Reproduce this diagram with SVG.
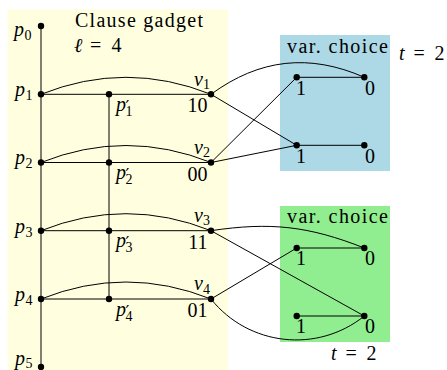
<svg xmlns="http://www.w3.org/2000/svg" width="447" height="370" viewBox="0 0 447 370">
<style>
.e{stroke:#000;stroke-width:1;fill:none}
.n{fill:#000}
text{font-family:"Liberation Serif","Times New Roman",serif;font-size:20px;fill:#000}
.i{font-style:italic}
.s{font-size:14px;font-style:normal}
.pr{font-family:"DejaVu Serif",serif;font-size:17px;font-style:normal}
</style>
<rect x="7.5" y="9.5" width="220.5" height="361" fill="#FFFFE0"/>
<rect x="280" y="35" width="110" height="136" fill="#ADD8E6"/>
<rect x="280" y="206" width="110" height="136" fill="#90EE90"/>
<g id="titles">
<text x="75" y="26.5" textLength="128" lengthAdjust="spacing">Clause gadget</text>
<text y="51.5"><tspan x="74" class="i">ℓ</tspan><tspan x="90">=</tspan><tspan x="111.5">4</tspan></text>
<text x="287" y="53" textLength="101" lengthAdjust="spacing">var. choice</text>
<text y="60"><tspan x="399" class="i">t</tspan><tspan x="413.5">=</tspan><tspan x="434.5">2</tspan></text>
<text x="287" y="223" textLength="101" lengthAdjust="spacing">var. choice</text>
<text y="360"><tspan x="331" class="i">t</tspan><tspan x="345.5">=</tspan><tspan x="366.5">2</tspan></text>
</g>
<g id="connectors">
<line class="e" x1="41" y1="26" x2="41" y2="367"/>
<line class="e" x1="109" y1="94.3" x2="109" y2="299"/>
<line class="e" x1="41" y1="94.3" x2="211" y2="94.3"/>
<line class="e" x1="41" y1="162.5" x2="211" y2="162.5"/>
<line class="e" x1="41" y1="230.7" x2="211" y2="230.7"/>
<line class="e" x1="41" y1="299" x2="211" y2="299"/>
<path class="e" d="M41,94.3 Q126,60.3 211,94.3"/>
<path class="e" d="M41,162.5 Q126,128.5 211,162.5"/>
<path class="e" d="M41,230.7 Q126,196.7 211,230.7"/>
<path class="e" d="M41,299 Q126,265 211,299"/>
<path class="e" d="M211,94.3 C259.4,58.8 309.4,53.2 364.3,77.3"/>
<line class="e" x1="211" y1="94.3" x2="296.7" y2="145.3"/>
<line class="e" x1="211" y1="162.5" x2="296.7" y2="77.3"/>
<line class="e" x1="211" y1="162.5" x2="296.7" y2="145.3"/>
<line class="e" x1="296.7" y1="77.3" x2="364.3" y2="77.3"/>
<line class="e" x1="296.7" y1="145.3" x2="364.3" y2="145.3"/>
<path class="e" d="M211,230.7 C270.3,221.8 308.5,226 364.3,248"/>
<line class="e" x1="211" y1="230.7" x2="364.3" y2="316"/>
<line class="e" x1="211" y1="299" x2="296.7" y2="248"/>
<path class="e" d="M211,299 C248.6,346.1 317.5,353.6 364.3,316"/>
<line class="e" x1="296.7" y1="248" x2="364.3" y2="248"/>
<line class="e" x1="296.7" y1="316" x2="364.3" y2="316"/>
</g>
<g id="p0"><circle class="n" cx="41" cy="26" r="3.2"/><text y="35.5"><tspan x="14" class="i">p</tspan><tspan x="24.5" y="39.5" class="s">0</tspan></text></g>
<g id="p1"><circle class="n" cx="41" cy="94.3" r="3.2"/><text y="96"><tspan x="15" class="i">p</tspan><tspan x="25.5" y="100" class="s">1</tspan></text></g>
<g id="p2"><circle class="n" cx="41" cy="162.5" r="3.2"/><text y="164.3"><tspan x="15" class="i">p</tspan><tspan x="25.5" y="168.3" class="s">2</tspan></text></g>
<g id="p3"><circle class="n" cx="41" cy="230.7" r="3.2"/><text y="232.5"><tspan x="15" class="i">p</tspan><tspan x="25.5" y="236.5" class="s">3</tspan></text></g>
<g id="p4"><circle class="n" cx="41" cy="299" r="3.2"/><text y="300.8"><tspan x="15" class="i">p</tspan><tspan x="25.5" y="304.8" class="s">4</tspan></text></g>
<g id="p5"><circle class="n" cx="41" cy="367" r="3.2"/><text y="365"><tspan x="15" class="i">p</tspan><tspan x="25.5" y="368" class="s">5</tspan></text></g>
<g id="pp1"><circle class="n" cx="109" cy="94.3" r="3.2"/><text y="111"><tspan x="116" class="i">p</tspan><tspan x="125.5" y="112" class="pr">′</tspan></text><text x="125.5" y="116" class="s">1</text></g>
<g id="pp2"><circle class="n" cx="109" cy="162.5" r="3.2"/><text y="179.2"><tspan x="116" class="i">p</tspan><tspan x="125.5" y="180.2" class="pr">′</tspan></text><text x="125.5" y="184.2" class="s">2</text></g>
<g id="pp3"><circle class="n" cx="109" cy="230.7" r="3.2"/><text y="247.4"><tspan x="116" class="i">p</tspan><tspan x="125.5" y="248.4" class="pr">′</tspan></text><text x="125.5" y="252.4" class="s">3</text></g>
<g id="pp4"><circle class="n" cx="109" cy="299" r="3.2"/><text y="315.7"><tspan x="116" class="i">p</tspan><tspan x="125.5" y="316.7" class="pr">′</tspan></text><text x="125.5" y="320.7" class="s">4</text></g>
<g id="v1"><circle class="n" cx="211" cy="94.3" r="3.2"/><text y="85.5"><tspan x="194" class="i">v</tspan><tspan x="203" y="89" class="s">1</tspan></text><text x="207.5" y="112.3" text-anchor="end">10</text></g>
<g id="v2"><circle class="n" cx="211" cy="162.5" r="3.2"/><text y="153.7"><tspan x="194" class="i">v</tspan><tspan x="203" y="157.2" class="s">2</tspan></text><text x="207.5" y="180.5" text-anchor="end">00</text></g>
<g id="v3"><circle class="n" cx="211" cy="230.7" r="3.2"/><text y="221.9"><tspan x="194" class="i">v</tspan><tspan x="203" y="225.4" class="s">3</tspan></text><text x="207.5" y="248.7" text-anchor="end">11</text></g>
<g id="v4"><circle class="n" cx="211" cy="299" r="3.2"/><text y="290.2"><tspan x="194" class="i">v</tspan><tspan x="203" y="293.7" class="s">4</tspan></text><text x="207.5" y="316.5" text-anchor="end">01</text></g>
<g id="b1"><circle class="n" cx="296.7" cy="77.3" r="3.2"/><text x="296" y="95">1</text></g>
<g id="b0"><circle class="n" cx="364.3" cy="77.3" r="3.2"/><text x="365" y="95">0</text></g>
<g id="b1b"><circle class="n" cx="296.7" cy="145.3" r="3.2"/><text x="296" y="163.3">1</text></g>
<g id="b0b"><circle class="n" cx="364.3" cy="145.3" r="3.2"/><text x="365" y="163.3">0</text></g>
<g id="g1"><circle class="n" cx="296.7" cy="248" r="3.2"/><text x="296" y="265.3">1</text></g>
<g id="g0"><circle class="n" cx="364.3" cy="248" r="3.2"/><text x="365" y="265.3">0</text></g>
<g id="g1b"><circle class="n" cx="296.7" cy="316" r="3.2"/><text x="296" y="333.3">1</text></g>
<g id="g0b"><circle class="n" cx="364.3" cy="316" r="3.2"/><text x="365" y="333.3">0</text></g>
</svg>
